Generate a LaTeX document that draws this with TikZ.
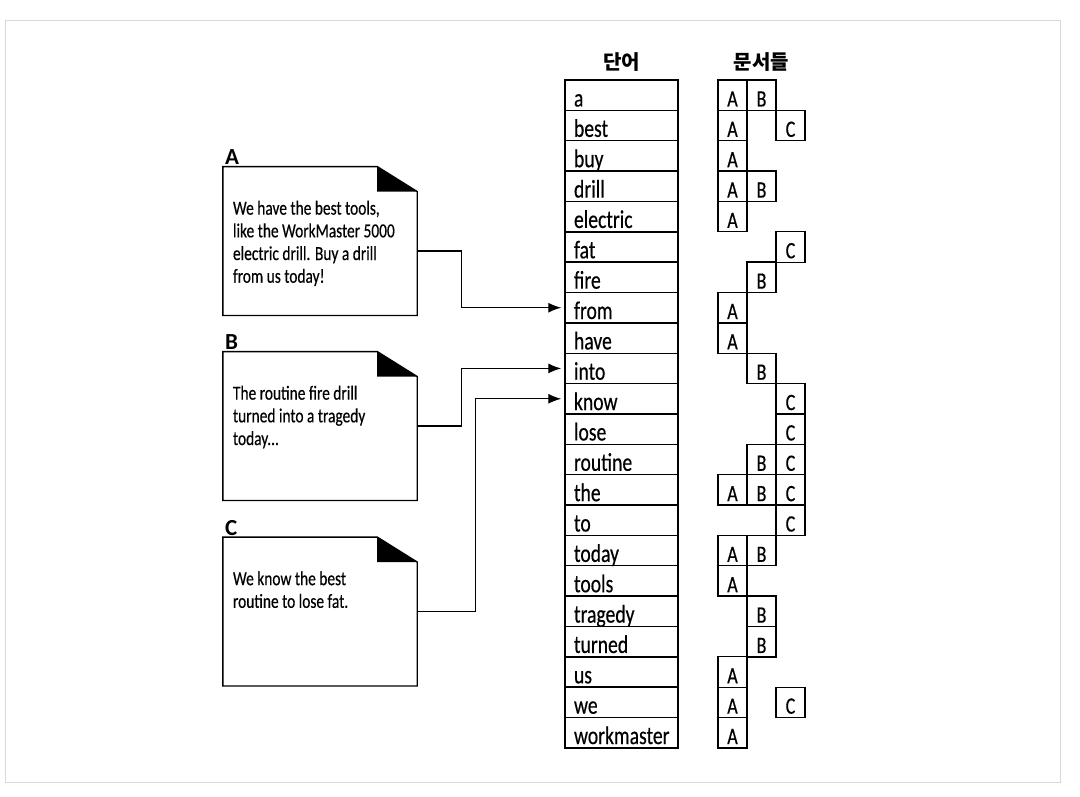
\documentclass[tikz,border=0pt]{standalone}
\usepackage{fontspec}
\setmainfont{Carlito}[FakeStretch=0.77, FakeBold=0.4]
\newfontfamily\labelfont{Carlito}
\newfontfamily\krfont{Noto Sans CJK KR}
\usepackage{tikz}
\usetikzlibrary{positioning, arrows.meta}

\begin{document}
\begin{tikzpicture}[x=1pt, y=-1pt]
	\tikzstyle{word}=[rectangle, draw=black, line width=1.4pt, minimum width=113pt, minimum height=30.4pt, inner xsep=9pt, inner ysep=0pt, text width=95pt, align=left, text height=24.6pt, text depth=2pt, font=\fontsize{25.5}{25.5}\selectfont]
	\tikzstyle{cell}=[rectangle, draw=black, line width=1.3pt, minimum width=29pt, minimum height=30.4pt, inner sep=0pt, text height=24.6pt, text depth=2pt, font=\fontsize{23.5}{23.5}\selectfont]
	\tikzstyle{doc}=[rectangle, minimum width=194pt, minimum height=148.5pt, inner sep=0pt]
	\tikzstyle{doctext}=[align=left, inner sep=0pt, font=\fontsize{20}{22.7}\selectfont]
	\tikzstyle{head}=[font=\krfont\bfseries\fontsize{20}{20}\selectfont]
	\tikzstyle{doclabel}=[anchor=south west, inner sep=0pt, yshift=1.5pt, xshift=2pt, font=\labelfont\bfseries\fontsize{23}{23}\selectfont]
	\tikzstyle{link}=[line width=1.3pt, -{Latex[length=13pt,width=10pt]}, shorten >=3pt]
	\useasboundingbox (0,0) rectangle (1080,796);
	\draw[gray!30, line width=1pt] (5,20) rectangle (1060,782);

	% headers
	\node[head] (hword) at (621.5,62) {단어};
	\node[head] (hdocs) at (761.5,62) {문서들};

	% index table
	\foreach \w/\docs [count=\i from 0] in {a/{A/0,B/1}, best/{A/0,C/2}, buy/{A/0}, drill/{A/0,B/1}, electric/{A/0}, fat/{C/2}, fire/{B/1}, from/{A/0}, have/{A/0}, into/{B/1}, know/{C/2}, lose/{C/2}, routine/{B/1,C/2}, the/{A/0,B/1,C/2}, to/{C/2}, today/{A/0,B/1}, tools/{A/0}, tragedy/{B/1}, turned/{B/1}, us/{A/0}, we/{A/0,C/2}, workmaster/{A/0}} {
		\node[word] (w-\w) at (621.5,{80+(\i+0.5)*30.36}) {\w};
		\foreach \d/\k in \docs {
			\node[cell] (c-\w-\d) at ({732.5+29*\k},{80+(\i+0.5)*30.36}) {\d};
		}
	}

	% documents
	\node[doc, label={[doclabel]north west:A}] (docA) at (320,241) {};
	\node[doc, label={[doclabel]north west:B}] (docB) at (320,426) {};
	\node[doc, label={[doclabel]north west:C}] (docC) at (320,611.5) {};
	\foreach \d in {A,B,C} {
		\draw[line width=1.4pt] (doc\d.north west) -- ([xshift=-40pt]doc\d.north east) -- ([yshift=-25pt]doc\d.north east) -- (doc\d.south east) -- (doc\d.south west) -- cycle;
		\fill ([xshift=-40pt]doc\d.north east) -- ([xshift=-40pt,yshift=-25pt]doc\d.north east) -- ([yshift=-25pt]doc\d.north east) -- cycle;
	}
	\node[doctext, anchor=north west] (textA) at ([shift={(10,34)}]docA.north west) {We have the best tools,\\like the WorkMaster 5000\\electric drill. Buy a drill\\from us today!};
	\node[doctext, anchor=north west] (textB) at ([shift={(10,34)}]docB.north west) {The routine fire drill\\turned into a tragedy\\today...};
	\node[doctext, anchor=north west] (textC) at ([shift={(10,34)}]docC.north west) {We know the best\\routine to lose fat.};

	% links
	\draw[link] ([yshift=-10pt]docA.east) -- ++(44,0) |- (w-from.west);
	\draw[link] (docB.east) -- ++(44,0) |- (w-into.west);
	\draw[link] (docC.east) -- ++(58,0) |- (w-know.west);
\end{tikzpicture}
\end{document}
